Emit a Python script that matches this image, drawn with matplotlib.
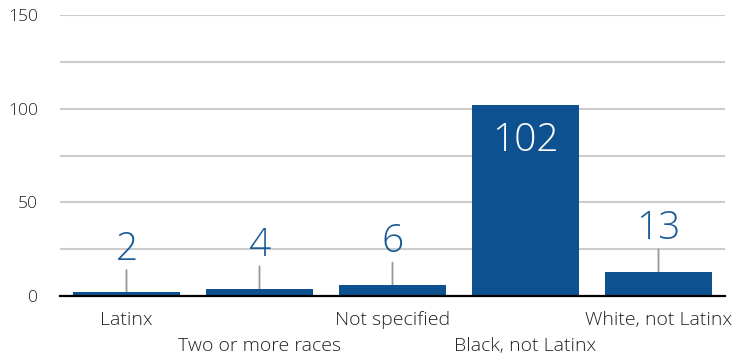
import matplotlib
matplotlib.use("Agg")
import matplotlib.pyplot as plt

categories = ["Latinx", "Two or more races", "Not specified", "Black, not Latinx", "White, not Latinx"]
values = [2, 4, 6, 102, 13]
yticks = [0, 50, 100, 150]

plt.rcParams['font.family'] = ['Open Sans', 'DejaVu Sans']

fig = plt.figure(figsize=(7.34, 3.58), dpi=100)
ax = fig.add_axes([60/734, (358-296)/358, 665/734, 281/358])

bar_color = "#0e5190"
x = list(range(len(categories)))
ax.bar(x, values, width=0.8, color=bar_color, zorder=3)

ax.set_xlim(-0.5, len(categories) - 0.5)
ax.set_ylim(0, 150)
ax.set_yticks(yticks)
ax.set_yticks([25, 75, 125], minor=True)
ax.yaxis.grid(True, which='both', color="#cccccc", linewidth=1.5, zorder=0)
ax.set_axisbelow(True)
ax.tick_params(axis='y', which='both', length=0, pad=16, labelsize=12.5, labelcolor="#222222")
for lab in ax.get_yticklabels():
    lab.set_fontweight('light')
ax.tick_params(axis='x', length=0, labelbottom=False)
for s in ['top', 'right', 'left']:
    ax.spines[s].set_visible(False)
ax.spines['bottom'].set_color('black')
ax.spines['bottom'].set_linewidth(1.6)
ax.spines['bottom'].set_zorder(4)

for i, (c, v) in enumerate(zip(categories, values)):
    if v > 50:
        ax.annotate(str(v), (i, v), xytext=(0, -12), textcoords='offset points',
                    ha='center', va='top', fontsize=28, color='white',
                    fontweight='light', zorder=5)
    else:
        ax.annotate("", (i, v), xytext=(0, 16), textcoords='offset points',
                    arrowprops=dict(arrowstyle='-', color='#999999', lw=1.3,
                                    shrinkA=0, shrinkB=0), zorder=2)
        ax.annotate(str(v), (i, v), xytext=(0, 17), textcoords='offset points',
                    ha='center', va='bottom', fontsize=28, color='#1a5a96',
                    fontweight='light', zorder=5)
    off = -17 if i % 2 == 0 else -36
    ax.annotate(c, (i, 0), xytext=(0, off), textcoords='offset points',
                ha='center', va='center', fontsize=14, color='#222222',
                fontweight='light', annotation_clip=False)

fig.savefig("out.png", dpi=100)
